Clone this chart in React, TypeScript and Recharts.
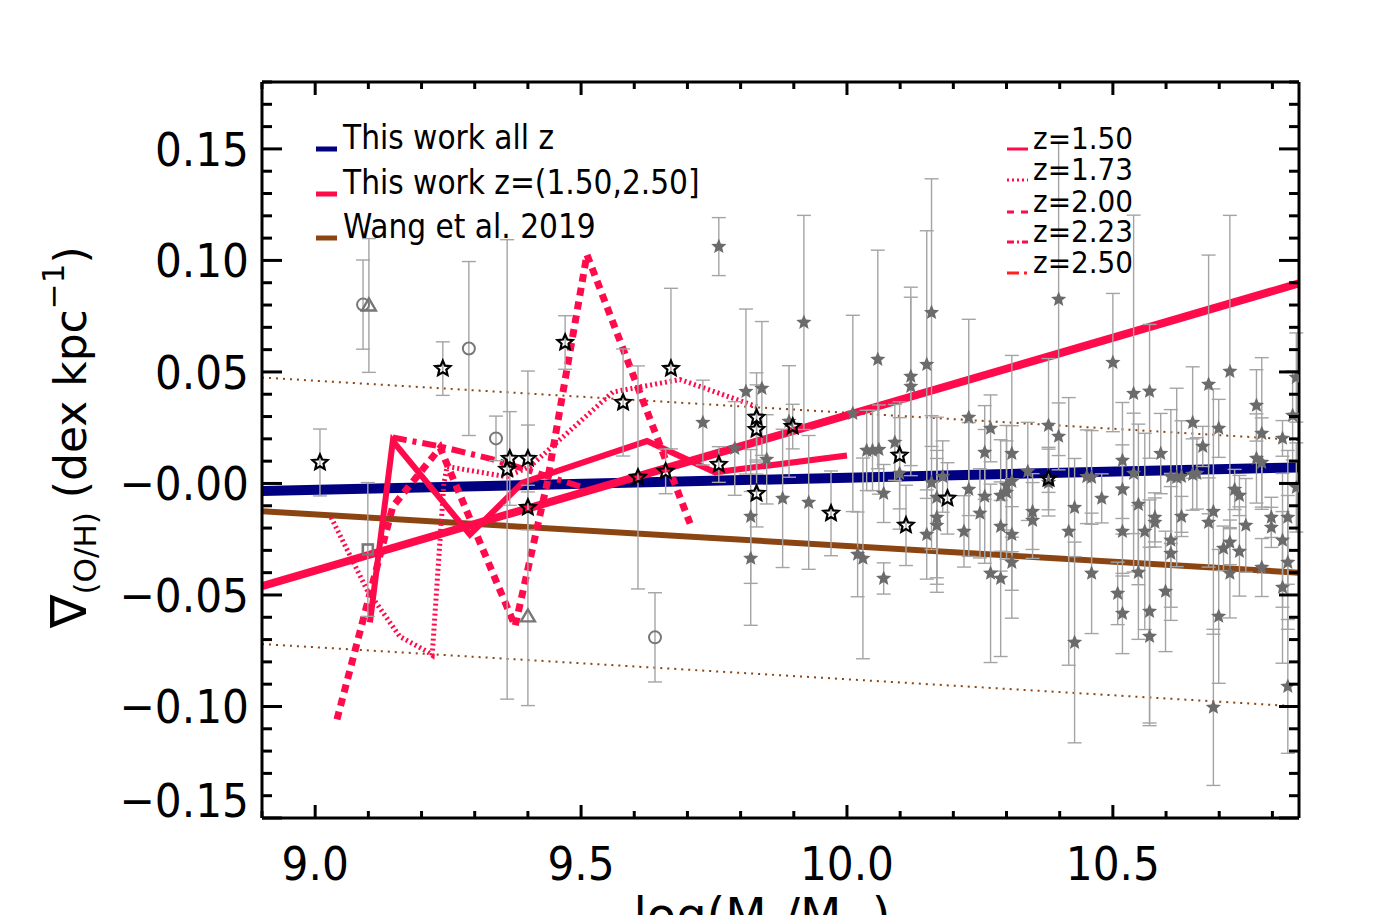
import { ComposedChart, XAxis, YAxis, Line, Scatter, ErrorBar } from "recharts";

const RED = "#ff0a4a";
const NAVY = "#000080";
const BROWN = "#8b4513";
const STAR_GRAY = "#6b6b6b";
const BAR_GRAY = "#a4a4a4";
const TICK_FONT = "'DejaVu Sans Condensed', 'DejaVu Sans', sans-serif";

// axis ticks
const xMinorTicks = [8.9, 9.0, 9.1, 9.2, 9.3, 9.4, 9.5, 9.6, 9.7, 9.8, 9.9, 10.0, 10.1, 10.2, 10.3, 10.4, 10.5, 10.6, 10.7, 10.8];
const xMajorTicks = [9.0, 9.5, 10.0, 10.5];
const xMajorLabels = ["9.0", "9.5", "10.0", "10.5"];
const yMinorTicks = [
  -0.15, -0.14, -0.13, -0.12, -0.11, -0.1, -0.09, -0.08, -0.07, -0.06, -0.05, -0.04, -0.03, -0.02, -0.01, 0,
  0.01, 0.02, 0.03, 0.04, 0.05, 0.06, 0.07, 0.08, 0.09, 0.1, 0.11, 0.12, 0.13, 0.14, 0.15, 0.16, 0.17, 0.18,
];
const yMajorTicks = [-0.15, -0.1, -0.05, 0, 0.05, 0.1, 0.15];
const yMajorLabels = ["\u22120.15", "\u22120.10", "\u22120.05", "\u22120.00", "0.05", "0.10", "0.15"];

// fitted lines
const allZFit = [{ x: 8.9, y: -0.0034 }, { x: 10.85, y: 0.0072 }];
const zBinFit = [{ x: 8.9, y: -0.046 }, { x: 10.85, y: 0.0897 }];
const wang2019 = [{ x: 8.9, y: -0.0125 }, { x: 10.85, y: -0.04 }];
const wangUpper = [{ x: 8.9, y: 0.0475 }, { x: 10.85, y: 0.0195 }];
const wangLower = [{ x: 8.9, y: -0.072 }, { x: 10.85, y: -0.1 }];

// running curves per redshift
const z150 = [
  { x: 9.103, y: -0.0623 }, { x: 9.146, y: 0.019 }, { x: 9.291, y: -0.0229 }, { x: 9.39, y: 0.0004 },
  { x: 9.624, y: 0.019 }, { x: 9.752, y: 0.005 }, { x: 10.0, y: 0.0125 },
];
const z173 = [
  { x: 9.03, y: -0.0152 }, { x: 9.097, y: -0.0475 }, { x: 9.159, y: -0.0686 }, { x: 9.21, y: -0.0753 },
  { x: 9.22, y: -0.077 }, { x: 9.242, y: 0.0 }, { x: 9.248, y: 0.0076 }, { x: 9.36, y: 0.003 },
  { x: 9.404, y: 0.0076 }, { x: 9.56, y: 0.041 }, { x: 9.686, y: 0.0466 }, { x: 9.836, y: 0.034 },
];
const z200 = [
  { x: 9.041, y: -0.1058 }, { x: 9.146, y: -0.0103 }, { x: 9.235, y: 0.016 }, { x: 9.376, y: -0.064 },
  { x: 9.436, y: 0.0 }, { x: 9.511, y: 0.1026 }, { x: 9.705, y: -0.018 },
];
const z223 = [
  { x: 9.146, y: 0.0206 }, { x: 9.235, y: 0.0166 }, { x: 9.334, y: 0.0108 }, { x: 9.498, y: -0.0013 },
];

// galaxies: x = log mass, y = gradient, e = error
const filledStars = [
  { x: 9.729, y: 0.0273, e: 0.019 }, { x: 9.759, y: 0.1062, e: 0.013 }, { x: 9.81, y: 0.0412, e: 0.037 },
  { x: 9.84, y: 0.0426, e: 0.03 }, { x: 9.789, y: 0.0157, e: 0.021 }, { x: 9.849, y: 0.0108, e: 0.02 },
  { x: 9.879, y: -0.0067, e: 0.031 }, { x: 9.928, y: -0.0085, e: 0.03 }, { x: 9.819, y: -0.0148, e: 0.03 },
  { x: 9.819, y: -0.0336, e: 0.03 }, { x: 9.891, y: 0.0278, e: 0.025 }, { x: 9.919, y: 0.0722, e: 0.048 },
  { x: 10.011, y: 0.0314, e: 0.044 }, { x: 10.058, y: 0.0556, e: 0.049 }, { x: 10.037, y: 0.0148, e: 0.018 },
  { x: 10.048, y: 0.0148, e: 0.018 }, { x: 10.06, y: 0.0152, e: 0.02 }, { x: 10.02, y: -0.0318, e: 0.019 },
  { x: 10.03, y: -0.0336, e: 0.045 }, { x: 10.159, y: 0.0766, e: 0.06 }, { x: 10.398, y: 0.0825, e: 0.07 },
  { x: 10.15, y: 0.0533, e: 0.06 }, { x: 10.12, y: 0.048, e: 0.04 }, { x: 10.12, y: 0.0435, e: 0.04 },
  { x: 10.09, y: 0.0184, e: 0.017 }, { x: 10.099, y: 0.0045, e: 0.025 }, { x: 10.069, y: -0.0045, e: 0.013 },
  { x: 10.069, y: -0.0426, e: 0.007 }, { x: 10.159, y: 0.0004, e: 0.03 }, { x: 10.18, y: 0.0031, e: 0.016 },
  { x: 10.169, y: -0.0063, e: 0.036 }, { x: 10.169, y: -0.0152, e: 0.03 }, { x: 10.169, y: -0.0188, e: 0.03 },
  { x: 10.15, y: -0.0229, e: 0.02 }, { x: 10.229, y: 0.0296, e: 0.044 }, { x: 10.229, y: -0.0027, e: 0.03 },
  { x: 10.22, y: -0.0215, e: 0.016 }, { x: 10.25, y: -0.0134, e: 0.02 }, { x: 10.259, y: 0.0139, e: 0.021 },
  { x: 10.27, y: 0.0247, e: 0.015 }, { x: 10.259, y: -0.0058, e: 0.03 }, { x: 10.27, y: -0.0403, e: 0.04 },
  { x: 10.289, y: -0.0426, e: 0.035 }, { x: 10.289, y: -0.0054, e: 0.025 }, { x: 10.3, y: -0.004, e: 0.03 },
  { x: 10.3, y: -0.0009, e: 0.02 }, { x: 10.31, y: 0.0009, e: 0.025 }, { x: 10.289, y: -0.0193, e: 0.02 },
  { x: 10.31, y: 0.0134, e: 0.044 }, { x: 10.31, y: -0.0229, e: 0.025 }, { x: 10.31, y: -0.0354, e: 0.025 },
  { x: 10.34, y: 0.0054, e: 0.022 }, { x: 10.349, y: -0.0126, e: 0.017 }, { x: 10.349, y: -0.0166, e: 0.017 },
  { x: 10.379, y: 0.026, e: 0.03 }, { x: 10.379, y: 0.0004, e: 0.015 }, { x: 10.398, y: 0.0211, e: 0.015 },
  { x: 10.417, y: -0.0215, e: 0.06 }, { x: 10.5, y: 0.0542, e: 0.031 }, { x: 10.539, y: 0.0403, e: 0.08 },
  { x: 10.569, y: 0.0413, e: 0.03 }, { x: 10.428, y: -0.0108, e: 0.022 }, { x: 10.428, y: -0.0713, e: 0.045 },
  { x: 10.451, y: 0.003, e: 0.021 }, { x: 10.46, y: 0.0027, e: 0.021 }, { x: 10.479, y: -0.0067, e: 0.011 },
  { x: 10.46, y: -0.0403, e: 0.027 }, { x: 10.518, y: 0.0103, e: 0.026 }, { x: 10.518, y: -0.0027, e: 0.02 },
  { x: 10.518, y: -0.0215, e: 0.02 }, { x: 10.509, y: -0.0493, e: 0.014 }, { x: 10.518, y: -0.0583, e: 0.018 },
  { x: 10.539, y: 0.0045, e: 0.027 }, { x: 10.548, y: -0.0094, e: 0.036 }, { x: 10.56, y: -0.0215, e: 0.044 },
  { x: 10.548, y: -0.0399, e: 0.03 }, { x: 10.569, y: -0.0574, e: 0.05 }, { x: 10.569, y: -0.0686, e: 0.04 },
  { x: 10.579, y: -0.0152, e: 0.011 }, { x: 10.579, y: -0.0175, e: 0.011 }, { x: 10.59, y: 0.0134, e: 0.018 },
  { x: 10.599, y: -0.0484, e: 0.027 }, { x: 10.609, y: 0.0031, e: 0.03 }, { x: 10.62, y: 0.0027, e: 0.04 },
  { x: 10.629, y: 0.0031, e: 0.025 }, { x: 10.609, y: -0.0255, e: 0.03 }, { x: 10.609, y: -0.0314, e: 0.03 },
  { x: 10.629, y: -0.0148, e: 0.009 }, { x: 10.65, y: 0.0273, e: 0.025 }, { x: 10.65, y: 0.004, e: 0.016 },
  { x: 10.658, y: 0.0045, e: 0.016 }, { x: 10.669, y: 0.0166, e: 0.009 }, { x: 10.68, y: 0.0444, e: 0.058 },
  { x: 10.68, y: -0.0175, e: 0.02 }, { x: 10.689, y: -0.0126, e: 0.055 }, { x: 10.689, y: -0.1004, e: 0.035 },
  { x: 10.699, y: 0.0247, e: 0.013 }, { x: 10.699, y: -0.0596, e: 0.03 }, { x: 10.72, y: 0.0502, e: 0.07 },
  { x: 10.708, y: -0.0291, e: 0.01 }, { x: 10.72, y: -0.0264, e: 0.01 }, { x: 10.72, y: -0.0403, e: 0.02 },
  { x: 10.729, y: -0.0027, e: 0.009 }, { x: 10.738, y: -0.0054, e: 0.009 }, { x: 10.738, y: -0.0305, e: 0.02 },
  { x: 10.75, y: -0.0188, e: 0.021 }, { x: 10.77, y: 0.035, e: 0.016 }, { x: 10.78, y: 0.0224, e: 0.034 },
  { x: 10.77, y: 0.0112, e: 0.02 }, { x: 10.78, y: 0.0094, e: 0.02 }, { x: 10.78, y: -0.0377, e: 0.013 },
  { x: 10.798, y: -0.0152, e: 0.009 }, { x: 10.798, y: -0.0197, e: 0.009 }, { x: 10.819, y: 0.0202, e: 0.008 },
  { x: 10.819, y: -0.0255, e: 0.03 }, { x: 10.819, y: -0.0466, e: 0.034 }, { x: 10.829, y: -0.0152, e: 0.03 },
  { x: 10.829, y: -0.0354, e: 0.03 }, { x: 10.829, y: -0.091, e: 0.03 }, { x: 10.838, y: 0.0305, e: 0.02 },
  { x: 10.845, y: 0.0475, e: 0.02 }, { x: 10.845, y: -0.0018, e: 0.02 },
];

const openStars = [
  { x: 9.009, y: 0.0094, e: 0.015 }, { x: 9.24, y: 0.0515, e: 0.012 }, { x: 9.47, y: 0.0632, e: 0.012 },
  { x: 9.366, y: 0.0112, e: 0.021 }, { x: 9.4, y: 0.0112, e: 0.015 }, { x: 9.361, y: 0.0063, e: 0.103 },
  { x: 9.4, y: -0.0108, e: 0.01 }, { x: 9.579, y: 0.0363, e: 0.024 }, { x: 9.669, y: 0.0515, e: 0.036 },
  { x: 9.659, y: 0.0054, e: 0.01 }, { x: 9.607, y: 0.0027, e: 0.05 }, { x: 9.759, y: 0.0085, e: 0.008 },
  { x: 9.83, y: 0.0296, e: 0.02 }, { x: 9.83, y: 0.0242, e: 0.02 }, { x: 9.83, y: -0.0045, e: 0.015 },
  { x: 9.898, y: 0.0255, e: 0.01 }, { x: 9.97, y: -0.0134, e: 0.019 }, { x: 10.099, y: 0.0126, e: 0.024 },
  { x: 10.111, y: -0.0188, e: 0.018 }, { x: 10.189, y: -0.0067, e: 0.016 }, { x: 10.379, y: 0.0022, e: 0.014 },
];

const openCircles = [
  { x: 9.09, y: 0.0802, e: 0.02 }, { x: 9.289, y: 0.0605, e: 0.039 },
  { x: 9.34, y: 0.0202, e: 0.01 }, { x: 9.639, y: -0.069, e: 0.02 },
];
const openTriangles = [
  { x: 9.101, y: 0.0798, e: [0.03, 0.03] }, { x: 9.4, y: -0.0596, e: [0.04, 0.11] },
];
const openSquares = [{ x: 9.099, y: -0.0296, e: 0.03 }];

const starPath = (cx: number, cy: number, R: number, r: number) => {
  let d = "";
  for (let i = 0; i < 10; i++) {
    const a = (-90 + i * 36) * (Math.PI / 180);
    const rad = i % 2 === 0 ? R : r;
    d += (i === 0 ? "M" : "L") + (cx + rad * Math.cos(a)).toFixed(2) + "," + (cy + rad * Math.sin(a)).toFixed(2);
  }
  return d + "Z";
};

const FilledStar = (p: any) => <path d={starPath(p.cx, p.cy, 8, 3.6)} fill={STAR_GRAY} />;
const OpenStar = (p: any) => (
  <path d={starPath(p.cx, p.cy, 8, 3.7)} fill="none" stroke="#000" strokeWidth={2.2} strokeLinejoin="miter" />
);
const OpenCircle = (p: any) => <circle cx={p.cx} cy={p.cy} r={6} fill="none" stroke="#777" strokeWidth={2} />;
const OpenTriangle = (p: any) => (
  <path d={`M${p.cx},${p.cy - 7}L${p.cx - 7},${p.cy + 5}L${p.cx + 7},${p.cy + 5}Z`} fill="none" stroke="#777" strokeWidth={2.4} />
);
const OpenSquare = (p: any) => (
  <rect x={p.cx - 5} y={p.cy - 5} width={10} height={10} fill="none" stroke="#777" strokeWidth={2.6} />
);

const near = (v: number, list: number[]) => list.findIndex((m) => Math.abs(m - v) < 1e-6);

const BottomTick = (p: any) => {
  const i = near(p.payload.value, xMajorTicks);
  return (
    <g>
      <line x1={p.x} x2={p.x} y1={p.y} y2={p.y - (i >= 0 ? 13 : 7)} stroke="#000" strokeWidth={3} />
      {i >= 0 && (
        <text x={p.x} y={p.y + 62} textAnchor="middle" fontSize={47} fontFamily={TICK_FONT} fill="#000">
          {xMajorLabels[i]}
        </text>
      )}
    </g>
  );
};
const TopTick = (p: any) => {
  const i = near(p.payload.value, xMajorTicks);
  return <line x1={p.x} x2={p.x} y1={p.y} y2={p.y + (i >= 0 ? 13 : 7)} stroke="#000" strokeWidth={3} />;
};
const LeftTick = (p: any) => {
  const i = near(p.payload.value, yMajorTicks);
  const shift = i === 0 ? -18 : 0;
  return (
    <g>
      <line x1={p.x} x2={p.x + (i >= 0 ? 20 : 10)} y1={p.y} y2={p.y} stroke="#000" strokeWidth={3} />
      {i >= 0 && (
        <text x={p.x - 13} y={p.y + 17 + shift} textAnchor="end" fontSize={47} fontFamily={TICK_FONT} fill="#000">
          {yMajorLabels[i]}
        </text>
      )}
    </g>
  );
};
const RightTick = (p: any) => {
  const i = near(p.payload.value, yMajorTicks);
  return <line x1={p.x} x2={p.x - (i >= 0 ? 20 : 10)} y1={p.y} y2={p.y} stroke="#000" strokeWidth={3} />;
};

const axisLine = { stroke: "#000", strokeWidth: 3 };

const leftLegend = [
  { label: "This work all z", color: NAVY, y: 149 },
  { label: "This work z=(1.50,2.50]", color: RED, y: 194 },
  { label: "Wang et al. 2019", color: BROWN, y: 238 },
];
const rightLegend = [
  { label: "z=1.50", color: RED, dash: undefined, y: 149 },
  { label: "z=1.73", color: RED, dash: "2 3", y: 180 },
  { label: "z=2.00", color: RED, dash: "7 7", y: 212 },
  { label: "z=2.23", color: RED, dash: "7 3 2 3", y: 242 },
  { label: "z=2.50", color: "#ff2020", dash: "12 5 3 20", y: 273 },
];

function Overlay() {
  return (
    <svg width={1379} height={915} style={{ position: "absolute", left: 0, top: 0, pointerEvents: "none" }}>
      {leftLegend.map((l) => (
        <g key={l.label}>
          <line x1={316} x2={337} y1={l.y} y2={l.y} stroke={l.color} strokeWidth={5} />
          <text x={343} y={l.y} fontSize={33} fontFamily={TICK_FONT} fill="#000">{l.label}</text>
        </g>
      ))}
      {rightLegend.map((l) => (
        <g key={l.label}>
          <line x1={1007} x2={1028} y1={l.y} y2={l.y} stroke={l.color} strokeWidth={3} strokeDasharray={l.dash} />
          <text x={1033} y={l.y} fontSize={31} fontFamily={TICK_FONT} fill="#000">{l.label}</text>
        </g>
      ))}
      <text transform="translate(86,628) rotate(-90)" fontSize={44} fontFamily="'DejaVu Sans', sans-serif" fill="#000">
        <tspan fontSize={50}>{"\u2207"}</tspan>
        <tspan fontSize={31} dy={10}>(O/H)</tspan>
        <tspan fontSize={44} dy={-10}>{" (dex kpc"}</tspan>
        <tspan fontSize={31} dy={-22}>{"\u22121"}</tspan>
        <tspan fontSize={44} dy={22}>)</tspan>
      </text>
      <text x={762} y={932} textAnchor="middle" fontSize={48} fontFamily="'DejaVu Sans', sans-serif" fill="#000">
        <tspan>log(M</tspan>
        <tspan fontSize={34} dy={8}>*</tspan>
        <tspan fontSize={48} dy={-8}>/M</tspan>
        <tspan fontSize={34} dy={8}>{"\u2609"}</tspan>
        <tspan fontSize={48} dy={-8}>)</tspan>
      </text>
    </svg>
  );
}

export default function App() {
  const lineProps = { dataKey: "y", dot: false, activeDot: false, isAnimationActive: false, type: "linear" as const };
  return (
    <div style={{ position: "absolute", left: 0, top: 0, width: 1379, height: 915, background: "#fff" }}>
      <ComposedChart width={1379} height={915} margin={{ top: 81, right: 79, bottom: 0, left: 62 }}>
        <XAxis
          dataKey="x" type="number" domain={[8.9, 10.85]} allowDataOverflow ticks={xMinorTicks} interval={0}
          tick={<BottomTick />} tickLine={false} tickSize={0} tickMargin={0} axisLine={axisLine} height={97}
        />
        <XAxis
          xAxisId="top" orientation="top" dataKey="x" type="number" domain={[8.9, 10.85]} allowDataOverflow
          ticks={xMinorTicks} interval={0} tick={<TopTick />} tickLine={false} tickSize={0} tickMargin={0}
          axisLine={axisLine} height={1}
        />
        <YAxis
          type="number" domain={[-0.15, 0.18]} allowDataOverflow ticks={yMinorTicks} interval={0}
          tick={<LeftTick />} tickLine={false} tickSize={0} tickMargin={0} axisLine={axisLine} width={200}
        />
        <YAxis
          yAxisId="right" orientation="right" type="number" domain={[-0.15, 0.18]} allowDataOverflow
          ticks={yMinorTicks} interval={0} tick={<RightTick />} tickLine={false} tickSize={0} tickMargin={0}
          axisLine={axisLine} width={1}
        />

        <Line {...lineProps} data={wangUpper} stroke={BROWN} strokeWidth={2} strokeDasharray="2 5" />
        <Line {...lineProps} data={wangLower} stroke={BROWN} strokeWidth={2} strokeDasharray="2 5" />
        <Line {...lineProps} data={wang2019} stroke={BROWN} strokeWidth={6} />
        <Line {...lineProps} data={allZFit} stroke={NAVY} strokeWidth={10} />
        <Line {...lineProps} data={zBinFit} stroke={RED} strokeWidth={8} />
        <Line {...lineProps} data={z150} stroke={RED} strokeWidth={6} />
        <Line {...lineProps} data={z173} stroke={RED} strokeWidth={5} strokeDasharray="2 3" />
        <Line {...lineProps} data={z200} stroke={RED} strokeWidth={7} strokeDasharray="8 6" />
        <Line {...lineProps} data={z223} stroke={RED} strokeWidth={6} strokeDasharray="14 6 4 6" />

        <Scatter data={filledStars} dataKey="y" shape={FilledStar} isAnimationActive={false}>
          <ErrorBar dataKey="e" direction="y" width={7} stroke={BAR_GRAY} strokeWidth={1.4} isAnimationActive={false} />
        </Scatter>
        <Scatter data={openCircles} dataKey="y" shape={OpenCircle} isAnimationActive={false}>
          <ErrorBar dataKey="e" direction="y" width={7} stroke={BAR_GRAY} strokeWidth={1.4} isAnimationActive={false} />
        </Scatter>
        <Scatter data={openTriangles} dataKey="y" shape={OpenTriangle} isAnimationActive={false}>
          <ErrorBar dataKey="e" direction="y" width={7} stroke={BAR_GRAY} strokeWidth={1.4} isAnimationActive={false} />
        </Scatter>
        <Scatter data={openSquares} dataKey="y" shape={OpenSquare} isAnimationActive={false}>
          <ErrorBar dataKey="e" direction="y" width={7} stroke={BAR_GRAY} strokeWidth={1.4} isAnimationActive={false} />
        </Scatter>
        <Scatter data={openStars} dataKey="y" shape={OpenStar} isAnimationActive={false}>
          <ErrorBar dataKey="e" direction="y" width={7} stroke={BAR_GRAY} strokeWidth={1.4} isAnimationActive={false} />
        </Scatter>
      </ComposedChart>
      <Overlay />
    </div>
  );
}
